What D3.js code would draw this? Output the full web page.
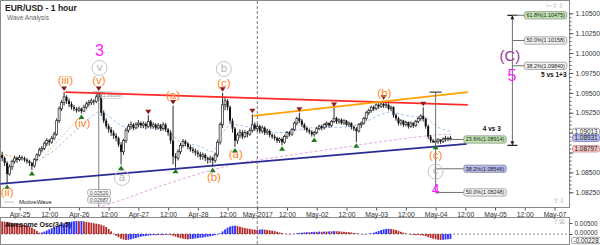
<!DOCTYPE html>
<html>
<head>
<meta charset="utf-8">
<script src="https://cdn.jsdelivr.net/npm/d3@7"></script>
<style>
  body { margin: 0; background: #fff; }
  svg { display: block; font-family: "Liberation Sans", Arial, sans-serif; }
</style>
</head>
<body>
<svg id="chart" width="600" height="245"></svg>
<script>
// hourly candles from Apr-24 17:00, [high, low, close]; open = previous close
var firstHour = -7;
var firstOpen = 1.0872;
var candles = [
  [1.0876,1.0864,1.0868],[1.0870,1.0858,1.0862],[1.0864,1.0836,1.0848],[1.0860,1.0846,1.0857],
  [1.0866,1.0853,1.0864],[1.0871,1.0861,1.0868],[1.0870,1.0862,1.0866],
  [1.0872,1.0864,1.0869],[1.0871,1.0865,1.0868],[1.0870,1.0863,1.0866],[1.0868,1.0861,1.0864],
  [1.0866,1.0858,1.0862],[1.0863,1.0853,1.0858],[1.0868,1.0856,1.0866],[1.0874,1.0864,1.0872],
  [1.0881,1.0870,1.0878],[1.0883,1.0875,1.0880],[1.0889,1.0878,1.0886],[1.0893,1.0883,1.0890],
  [1.0892,1.0884,1.0888],[1.0896,1.0886,1.0893],[1.0901,1.0891,1.0898],[1.0918,1.0896,1.0915],
  [1.0933,1.0912,1.0930],[1.0941,1.0927,1.0938],[1.0951,1.0934,1.0945],[1.0947,1.0936,1.0940],
  [1.0943,1.0932,1.0936],[1.0939,1.0929,1.0932],[1.0935,1.0927,1.0930],[1.0932,1.0925,1.0928],
  [1.0933,1.0926,1.0930],[1.0931,1.0924,1.0927],[1.0935,1.0926,1.0932],[1.0939,1.0930,1.0936],
  [1.0941,1.0933,1.0938],[1.0943,1.0935,1.0940],[1.0942,1.0935,1.0939],[1.0948,1.0937,1.0945],
  [1.0951,1.0940,1.0948],[1.0949,1.0921,1.0925],[1.0928,1.0912,1.0915],[1.0918,1.0905,1.0908],
  [1.0911,1.0900,1.0904],[1.0907,1.0896,1.0900],[1.0903,1.0892,1.0896],[1.0899,1.0889,1.0893],
  [1.0895,1.0882,1.0885],[1.0888,1.0860,1.0876],[1.0892,1.0872,1.0890],[1.0906,1.0887,1.0903],
  [1.0911,1.0900,1.0908],[1.0914,1.0904,1.0910],[1.0912,1.0903,1.0906],[1.0913,1.0904,1.0910],
  [1.0916,1.0907,1.0912],[1.0914,1.0906,1.0909],[1.0914,1.0906,1.0911],[1.0913,1.0904,1.0908],
  [1.0922,1.0906,1.0914],[1.0916,1.0905,1.0908],[1.0913,1.0905,1.0910],[1.0912,1.0903,1.0906],
  [1.0912,1.0904,1.0909],[1.0911,1.0902,1.0905],[1.0913,1.0903,1.0910],[1.0912,1.0901,1.0904],
  [1.0906,1.0896,1.0900],[1.0903,1.0886,1.0890],[1.0934,1.0860,1.0870],[1.0874,1.0856,1.0868],
  [1.0879,1.0865,1.0876],[1.0887,1.0873,1.0884],[1.0892,1.0881,1.0889],[1.0891,1.0883,1.0886],
  [1.0888,1.0879,1.0882],[1.0885,1.0876,1.0879],[1.0882,1.0874,1.0877],[1.0880,1.0871,1.0875],
  [1.0878,1.0869,1.0873],[1.0876,1.0866,1.0870],[1.0875,1.0866,1.0872],[1.0874,1.0864,1.0868],
  [1.0870,1.0861,1.0866],[1.0871,1.0862,1.0868],[1.0870,1.0857,1.0865],[1.0875,1.0862,1.0872],
  [1.0891,1.0869,1.0888],[1.0913,1.0885,1.0910],[1.0950,1.0906,1.0935],[1.0945,1.0928,1.0940],
  [1.0942,1.0928,1.0932],[1.0934,1.0911,1.0915],[1.0918,1.0900,1.0905],[1.0907,1.0882,1.0890],
  [1.0900,1.0886,1.0897],[1.0904,1.0893,1.0900],[1.0903,1.0892,1.0895],[1.0903,1.0893,1.0900],
  [1.0902,1.0894,1.0898],[1.0906,1.0896,1.0903],[1.0923,1.0900,1.0910],[1.0913,1.0902,1.0905],
  [1.0911,1.0901,1.0908],[1.0910,1.0899,1.0902],[1.0909,1.0899,1.0906],[1.0908,1.0897,1.0900],
  [1.0905,1.0897,1.0902],[1.0904,1.0894,1.0897],[1.0899,1.0892,1.0895],[1.0898,1.0890,1.0893],
  [1.0895,1.0887,1.0890],[1.0894,1.0887,1.0892],[1.0894,1.0884,1.0888],[1.0897,1.0886,1.0895],
  [1.0902,1.0892,1.0900],[1.0902,1.0895,1.0898],[1.0906,1.0896,1.0904],[1.0914,1.0902,1.0912],
  [1.0920,1.0909,1.0918],[1.0925,1.0912,1.0915],[1.0917,1.0907,1.0910],[1.0912,1.0903,1.0906],
  [1.0908,1.0900,1.0903],[1.0905,1.0898,1.0901],[1.0903,1.0895,1.0898],[1.0902,1.0895,1.0900],
  [1.0907,1.0898,1.0905],[1.0910,1.0903,1.0908],[1.0910,1.0903,1.0906],[1.0912,1.0904,1.0910],
  [1.0914,1.0907,1.0912],[1.0913,1.0906,1.0909],[1.0916,1.0907,1.0914],[1.0931,1.0912,1.0918],
  [1.0920,1.0911,1.0914],[1.0918,1.0911,1.0916],[1.0918,1.0910,1.0912],[1.0917,1.0910,1.0915],
  [1.0916,1.0908,1.0910],[1.0914,1.0907,1.0912],[1.0913,1.0904,1.0907],[1.0909,1.0902,1.0905],
  [1.0907,1.0888,1.0902],[1.0912,1.0900,1.0910],[1.0914,1.0906,1.0912],[1.0920,1.0910,1.0918],
  [1.0927,1.0915,1.0925],[1.0930,1.0922,1.0928],[1.0934,1.0925,1.0932],[1.0934,1.0927,1.0930],
  [1.0937,1.0928,1.0935],[1.0937,1.0930,1.0933],[1.0938,1.0931,1.0936],[1.0940,1.0931,1.0934],
  [1.0938,1.0931,1.0935],[1.0937,1.0928,1.0930],[1.0934,1.0927,1.0932],[1.0933,1.0919,1.0922],
  [1.0924,1.0915,1.0918],[1.0920,1.0909,1.0912],[1.0917,1.0909,1.0915],[1.0916,1.0907,1.0910],
  [1.0915,1.0908,1.0913],[1.0914,1.0905,1.0908],[1.0914,1.0906,1.0912],[1.0913,1.0906,1.0909],
  [1.0916,1.0907,1.0914],[1.0920,1.0912,1.0918],[1.0923,1.0915,1.0921],[1.0932,1.0914,1.0917],
  [1.0919,1.0905,1.0908],[1.0910,1.0892,1.0895],[1.0897,1.0887,1.0890],[1.0892,1.0887,1.0888],
  [1.0891,1.0886,1.0889],[1.0893,1.0886,1.0891],[1.0892,1.0886,1.0889],[1.0894,1.0887,1.0892],
  [1.0896,1.0889,1.0893],[1.0895,1.0889,1.0892],[1.0896,1.0890,1.0893]
];

// awesome oscillator (34,5), one value per candle
var aoValues = [
  0.0057,0.0056,0.0054,0.0053,0.0051,0.0050,0.0048,
  0.0046,0.0044,0.0041,0.0038,0.0034,0.0029,0.0022,0.0014,0.0006,0.0007,
  0.0011,0.0016,0.0021,0.0026,0.0031,0.0036,0.0041,0.0045,0.0049,0.0052,
  0.0054,0.0056,0.0058,0.0059,0.0058,0.0059,0.0057,0.0055,0.0053,0.0051,
  0.0049,0.0047,0.0045,0.0042,0.0038,0.0032,0.0023,0.0012,0.0001,-0.0008,
  -0.0015,-0.0021,-0.0025,-0.0027,-0.0026,-0.0024,-0.0021,-0.0018,-0.0015,-0.0012,
  -0.0010,-0.0009,-0.0007,-0.0006,-0.0005,-0.0006,-0.0005,-0.0004,-0.0005,-0.0004,
  -0.0003,-0.0005,-0.0008,-0.0012,-0.0016,-0.0019,-0.0021,-0.0023,-0.0024,-0.0023,
  -0.0022,-0.0020,-0.0019,-0.0017,-0.0016,-0.0014,-0.0012,-0.0010,-0.0008,-0.0005,
  -0.0002,0.0003,0.0012,0.0021,0.0029,0.0034,0.0037,0.0038,0.0036,0.0033,
  0.0030,0.0027,0.0025,0.0023,0.0021,0.0020,0.0019,0.0020,0.0021,0.0020,
  0.0018,0.0017,0.0015,0.0013,0.0010,0.0007,0.0004,0.0001,-0.0001,-0.0002,
  -0.0001,0.0001,0.0003,0.0005,0.0006,0.0007,0.0008,0.0008,0.0009,0.0010,
  0.0010,0.0011,0.0010,0.0011,0.0011,0.0012,0.0012,0.0013,0.0013,0.0012,
  0.0011,0.0010,0.0009,0.0008,0.0007,0.0005,0.0003,0.0001,-0.0001,-0.0002,
  -0.0001,0.0001,0.0003,0.0006,0.0010,0.0014,0.0018,0.0021,0.0023,0.0024,
  0.0023,0.0021,0.0018,0.0014,0.0010,0.0006,0.0002,-0.0001,-0.0003,-0.0004,
  -0.0005,-0.0005,-0.0006,-0.0007,-0.0010,-0.0014,-0.0018,-0.0021,-0.0024,-0.0026,
  -0.0027,-0.0026,-0.0025,-0.0024,-0.00228
];

// moving averages, [hour, price]
var fastMa = [[9.3,1.0868],[14.1,1.0878],[18.5,1.0891],[23,1.0903],[28.2,1.0918],[32.3,1.0926],
  [35.5,1.0922],[39.5,1.0912],[44.4,1.0906],[52.4,1.0906],[60.5,1.0900],[64.5,1.0889],[72.6,1.0883],
  [77.8,1.0876],[81.9,1.0900],[85.9,1.0910],[92.7,1.0907],[104.8,1.0900],[118.1,1.0906],[131.9,1.0907],
  [139.9,1.0914],[145.2,1.0922],[150,1.0926],[155.2,1.0922],[164.1,1.0918],[169.4,1.0906],[174.2,1.0902]];
var slowMa = [[31.5,1.08054],[37.5,1.08117],[41.5,1.08155],[52.4,1.08280],[64.5,1.08406],[77.8,1.08531],
  [91.5,1.08632],[104.8,1.08695],[118.1,1.08758],[131.9,1.08820],[145.2,1.08883],[157.3,1.08933],
  [168.1,1.08971],[174.2,1.08984]];

// trend lines, [hour, price]
var supportLine = [[-8, 1.08356], [180.6, 1.08858]];
var resistLine = [[18.5, 1.0951], [181, 1.0935]];
var upperLine = [[94.4, 1.0921], [181, 1.0951]];
var channelLine = [[5.8, 1.0857], [32.1, 1.09452]];
var peachLine = [[-8, 1.0874], [7, 1.0862]];

// swing markers: hour of candle
var swingHighs = [18, 32, 52, 62, 82, 94, 113, 127, 147, 163];
var swingLows = [-5, 5, 25, 41, 63, 78, 87, 106, 119, 136, 168];

// wave labels [hour, price, text]
var orangeLabels = [[18.5,1.09650,"(iii)"],[32.1,1.09650,"(v)"],[25.4,1.09109,"(iv)"],[-5,1.08242,"(ii)"],
  [62,1.09455,"(a)"],[78.5,1.08431,"(b)"],[82.5,1.09610,"(c)"],[87.3,1.08720,"(a)"],
  [147.3,1.09480,"(b)"],[168,1.08707,"(c)"]];
var circledLabels = [[32.3,1.09813,"v"],[82.5,1.09800,"b"],[41.4,1.08431,"a"],[168,1.08510,"c"]];
var degreeLabels = [[32.3,1.10039,"3"],[198.8,1.09720,"5"],[168,1.08293,"4"]];
var primaryLabels = [[198,1.09965,"(C)"]];

// measuring tools
var rangeTool = { h: 32, top: 1.09509, bottom: 1.0803, texts: ["0.02520", "0.02687"] };
var fibLowAt = { h: 168, top: 1.0951 };
var fibLowLevels = [1.08914, 1.08546, 1.08248];
var fibLowNames = ["23.6%", "38.2%", "50.0%"];
var fibHighAt = { h: 199, bottom: 1.0884 };
var fibHighLevels = [1.10475, 1.10158, 1.09840];
var fibHighNames = ["61.8%", "50.0%", "38.2%"];

// axes
var tickHours = [0,12,24,36,48,60,72,84,96,108,120,132,144,156,168,180,192,204,216];
var tickLabels = ["Apr-25","12:00","Apr-26","12:00","Apr-27","12:00","Apr-28","12:00","May-2017","12:00",
  "May-02","12:00","May-03","12:00","May-04","12:00","May-05","12:00","May-07"];
var priceTicks = [1.0825,1.085,1.0875,1.09,1.0925,1.095,1.0975,1.1,1.1025,1.105];
var priceTags = [1.09013, 1.08931, 1.08797];
var aoTicks = [0.005, 0];
var aoLast = -0.00228;

// ---------------------------------------------------------------
var svg = d3.select("#chart");
var R = 569.5, T = 0.5, B = 207.5, aoT = 217.5, aoB = 244.5;

var x = d3.scaleLinear().domain([0, 216]).range([19.5, 554.5]);
var y = d3.scaleLinear().domain([1.0825, 1.105]).range([192.3, 13.3]);
var yAo = d3.scaleLinear().domain([0, 0.005]).range([234, 223]);

var bars = candles.map(function (d, i) {
  return { h: firstHour + i, o: i ? candles[i - 1][2] : firstOpen, hi: d[0], lo: d[1], c: d[2] };
});
function barAt(h) { return bars[h - firstHour]; }

var defs = svg.append("defs");
defs.append("clipPath").attr("id", "clipMain").append("rect")
  .attr("x", 0.5).attr("y", T).attr("width", R - 0.5).attr("height", B - T);
defs.append("clipPath").attr("id", "clipAo").append("rect")
  .attr("x", 0.5).attr("y", aoT).attr("width", R - 0.5).attr("height", aoB - aoT);

// frames
svg.append("rect").attr("x", 0.5).attr("y", T).attr("width", R - 0.5).attr("height", B - T)
  .attr("fill", "none").attr("stroke", "#8a8a8a");
svg.append("rect").attr("x", 0.5).attr("y", aoT).attr("width", R - 0.5).attr("height", aoB - aoT)
  .attr("fill", "none").attr("stroke", "#8a8a8a");

// month separator
svg.append("line").attr("x1", x(96)).attr("x2", x(96)).attr("y1", 1).attr("y2", 245)
  .attr("stroke", "#777").attr("stroke-dasharray", "3,2");

// title
svg.append("text").attr("x", 5).attr("y", 11).attr("font-size", 8.5).attr("font-weight", "bold")
  .attr("fill", "#222").text("EUR/USD - 1 hour");
svg.append("text").attr("x", 7).attr("y", 19.5).attr("font-size", 6.5).attr("fill", "#666").text("Wave Analysis");

var main = svg.append("g").attr("clip-path", "url(#clipMain)");
var line = d3.line().x(function (d) { return x(d[0]); }).y(function (d) { return y(d[1]); });

// moving averages
main.append("path").datum(slowMa).attr("d", line.curve(d3.curveMonotoneX)).attr("fill", "none")
  .attr("stroke", "#e3a6e3").attr("stroke-width", 1).attr("stroke-dasharray", "3,2");
main.append("path").datum(fastMa).attr("d", line.curve(d3.curveMonotoneX)).attr("fill", "none")
  .attr("stroke", "#a9c6f2").attr("stroke-width", 1).attr("stroke-dasharray", "3,2");
line.curve(d3.curveLinear);
main.append("path").datum(channelLine).attr("d", line).attr("stroke", "#d9c98f")
  .attr("stroke-width", 1).attr("stroke-dasharray", "2,2");
main.append("path").datum(peachLine).attr("d", line).attr("stroke", "#f7c08a")
  .attr("stroke-width", 1).attr("stroke-dasharray", "3,2");

// candles
main.selectAll("line.wick").data(bars).join("line").attr("class", "wick")
  .attr("x1", function (d) { return x(d.h); }).attr("x2", function (d) { return x(d.h); })
  .attr("y1", function (d) { return y(d.hi); }).attr("y2", function (d) { return y(d.lo); })
  .attr("stroke", "#111").attr("stroke-width", 0.9);
main.selectAll("rect.body").data(bars).join("rect").attr("class", "body")
  .attr("x", function (d) { return x(d.h) - 1; }).attr("width", 2)
  .attr("y", function (d) { return y(Math.max(d.o, d.c)); })
  .attr("height", function (d) { return Math.max(0.8, Math.abs(y(d.o) - y(d.c))); })
  .attr("fill", function (d) { return d.c >= d.o ? "#fff" : "#111"; })
  .attr("stroke", function (d) { return d.c >= d.o ? "#222" : "none"; })
  .attr("stroke-width", 0.7);

// range tool at wave (v)
var rx = x(rangeTool.h);
main.append("line").attr("x1", rx).attr("x2", rx).attr("y1", y(rangeTool.top)).attr("y2", y(rangeTool.bottom))
  .attr("stroke", "#808080").attr("stroke-width", 1);
main.append("line").attr("x1", rx - 6).attr("x2", rx + 6).attr("y1", y(rangeTool.top)).attr("y2", y(rangeTool.top))
  .attr("stroke", "#808080");

function tag(g, x0, yc, text, fill, stroke, size, color, hgt) {
  var t = g.append("text").attr("x", x0 + 2).attr("y", yc).attr("dy", "0.36em")
    .attr("font-size", size).attr("fill", color || "#222").text(text);
  var w = t.node().getComputedTextLength() + 4;
  var bh = hgt || size * 1.36;
  g.insert("rect", function () { return t.node(); })
    .attr("x", x0).attr("y", yc - bh / 2).attr("width", w).attr("height", bh)
    .attr("rx", 2).attr("fill", fill).attr("stroke", stroke).attr("stroke-width", 0.7);
  return w;
}
var topTag = main.append("g");
tag(topTag, rx + 2, y(rangeTool.top) + 3, rangeTool.top.toFixed(5), "rgba(255,255,255,0.5)", "#ccc", 5, "#888");
rangeTool.texts.forEach(function (s, i) {
  var g = main.append("g");
  tag(g, rx - 11, y(rangeTool.bottom) - 17 + i * 7, s, "#fff", "#888", 5.2, "#444", 6.6);
});

// trend lines
main.append("path").datum(resistLine).attr("d", line).attr("stroke", "#ff2a2a").attr("stroke-width", 1.8);
main.append("path").datum(upperLine).attr("d", line).attr("stroke", "#ffa100").attr("stroke-width", 1.8);
main.append("path").datum(supportLine).attr("d", line).attr("stroke", "#2b2b95").attr("stroke-width", 1.8);

// fib retracement from wave (c) high
var fx = x(fibLowAt.h);
main.append("line").attr("x1", fx).attr("x2", fx).attr("y1", y(fibLowAt.top)).attr("y2", y(d3.min(fibLowLevels)))
  .attr("stroke", "#707070");
main.append("line").attr("x1", fx - 6).attr("x2", fx + 6).attr("y1", y(fibLowAt.top)).attr("y2", y(fibLowAt.top))
  .attr("stroke", "#444").attr("stroke-width", 1.2);
var lowFills = ["#bfe5b0", "#b3b9ee", "#f2f2f2"];
fibLowLevels.forEach(function (v, i) {
  main.append("line").attr("x1", fx).attr("x2", x(179.4)).attr("y1", y(v)).attr("y2", y(v)).attr("stroke", "#707070");
  tag(main.append("g"), x(179.4), y(v), fibLowNames[i] + "(" + v.toFixed(5) + ")", lowFills[i], "#888", 5.4);
});
main.append("text").attr("x", x(179.4) + 37).attr("y", y(1.09025)).attr("text-anchor", "end")
  .attr("font-size", 6.5).attr("font-weight", "bold").attr("fill", "#111").text("4 vs 3");

// fib extension for wave 5
var ex = x(fibHighAt.h);
main.append("line").attr("x1", ex).attr("x2", ex).attr("y1", y(fibHighLevels[0])).attr("y2", y(fibHighAt.bottom))
  .attr("stroke", "#707070");
[fibHighLevels[0], fibHighAt.bottom].forEach(function (v, i) {
  main.append("line").attr("x1", ex - 5).attr("x2", ex + 5).attr("y1", y(v)).attr("y2", y(v))
    .attr("stroke", "#222").attr("stroke-width", 1.2);
  var dir = i === 0 ? -1 : 1;
  main.append("path").attr("d", "M" + (ex - 2) + "," + (y(v) - dir * 4) + "L" + (ex + 2) + "," + (y(v) - dir * 4) + "L" + ex + "," + y(v) + "Z")
    .attr("fill", "#222");
});
var highFills = ["#bfe5b0", "#f2f2f2", "#f2f2f2"];
fibHighLevels.forEach(function (v, i) {
  main.append("line").attr("x1", ex).attr("x2", ex + 12).attr("y1", y(v)).attr("y2", y(v)).attr("stroke", "#707070");
  tag(main.append("g"), ex + 12, y(v), fibHighNames[i] + "(" + v.toFixed(5) + ")", highFills[i], "#888", 5.4);
});
main.append("text").attr("x", R - 3).attr("y", y(1.09705)).attr("text-anchor", "end")
  .attr("font-size", 6.5).attr("font-weight", "bold").attr("fill", "#111").text("5 vs 1+3");

// swing markers
main.selectAll("path.hi").data(swingHighs).join("path").attr("class", "hi")
  .attr("d", function (h) {
    var cx = x(h), cy = y(barAt(h).hi) - 1;
    return "M" + (cx - 3) + "," + (cy - 4.5) + "L" + (cx + 3) + "," + (cy - 4.5) + "L" + cx + "," + cy + "Z";
  }).attr("fill", "#8e1b1b");
main.selectAll("path.lo").data(swingLows).join("path").attr("class", "lo")
  .attr("d", function (h) {
    var cx = x(h), cy = y(barAt(h).lo) + 1;
    return "M" + (cx - 3) + "," + (cy + 4.5) + "L" + (cx + 3) + "," + (cy + 4.5) + "L" + cx + "," + cy + "Z";
  }).attr("fill", "#1d7a1d");

// wave labels
main.selectAll("text.orange").data(orangeLabels).join("text").attr("class", "orange")
  .attr("x", function (d) { return x(d[0]); }).attr("y", function (d) { return y(d[1]); })
  .attr("dy", "0.26em").attr("text-anchor", "middle").attr("font-size", 11.5)
  .attr("fill", "#ff8424").text(function (d) { return d[2]; });
var circ = main.selectAll("g.circ").data(circledLabels).join("g").attr("class", "circ")
  .attr("transform", function (d) { return "translate(" + x(d[0]) + "," + y(d[1]) + ")"; });
circ.append("circle").attr("r", 7.5).attr("fill", "none").attr("stroke", "#c4c4c4").attr("stroke-width", 1);
circ.append("text").attr("dy", "0.33em").attr("y", -1).attr("text-anchor", "middle").attr("font-size", 11.5)
  .attr("fill", "#b4b4b4").text(function (d) { return d[2]; });
main.selectAll("text.deg").data(degreeLabels).join("text").attr("class", "deg")
  .attr("x", function (d) { return x(d[0]); }).attr("y", function (d) { return y(d[1]); })
  .attr("dy", "0.36em").attr("text-anchor", "middle")
  .attr("font-size", function (d) { return d[2] === "4" ? 14 : 16; })
  .attr("fill", "#ff1aff").text(function (d) { return d[2]; });
main.selectAll("text.prim").data(primaryLabels).join("text").attr("class", "prim")
  .attr("x", function (d) { return x(d[0]); }).attr("y", function (d) { return y(d[1]); })
  .attr("dy", "0.36em").attr("text-anchor", "middle").attr("font-size", 15)
  .attr("fill", "#97399b").text(function (d) { return d[2]; });

// corner marks
svg.append("text").attr("x", 4).attr("y", 204).attr("font-size", 6).attr("fill", "#999").text("\u21E6\u21E8");
svg.append("text").attr("x", 19).attr("y", 204).attr("font-size", 6).attr("fill", "#222").text("MotiveWave");
svg.append("text").attr("x", 546).attr("y", 8).attr("font-size", 7).attr("fill", "#bbb").text("\u21E6\u21E7\u21E9");
svg.append("text").attr("x", 553).attr("y", 203).attr("font-size", 7).attr("fill", "#bbb").text("\u21E7\u21E9");
svg.append("text").attr("x", 553).attr("y", 224).attr("font-size", 7).attr("fill", "#bbb").text("\u21E7\u22A0");

// time axis
var xAxis = svg.append("g").attr("transform", "translate(0," + B + ")")
  .call(d3.axisBottom(x).tickValues(tickHours).tickSize(3).tickPadding(2)
    .tickFormat(function (d, i) { return tickLabels[i]; }));
xAxis.select(".domain").remove();
xAxis.selectAll("line").attr("stroke", "#555");
xAxis.selectAll("text").attr("font-size", 6.8).attr("fill", "#333").attr("font-family", null);

// price axis (labels under the price tags are left out)
var yMinor = svg.append("g").attr("transform", "translate(" + R + ",0)")
  .call(d3.axisRight(y).ticks(45).tickSize(2).tickFormat(""));
yMinor.select(".domain").remove();
yMinor.selectAll("line").attr("stroke", "#555");
var yAxis = svg.append("g").attr("transform", "translate(" + R + ",0)")
  .call(d3.axisRight(y).tickValues(priceTicks).tickSize(4).tickPadding(2)
    .tickFormat(function (d) {
      var hidden = priceTags.some(function (t) { return Math.abs(y(t) - y(d)) < 5; });
      return hidden ? "" : d3.format(".5f")(d);
    }));
yAxis.select(".domain").remove();
yAxis.selectAll("line").attr("stroke", "#555");
yAxis.selectAll("text").attr("font-size", 6.8).attr("fill", "#333").attr("font-family", null);

var tagFills = ["#ffffff", "#b8bdf0", "#f4c3c3"];
var tagStrokes = ["#777", "#6468b8", "#c58a8a"];
priceTags.forEach(function (v, i) {
  tag(svg.append("g"), R + 3, y(v), v.toFixed(5), tagFills[i], tagStrokes[i], 6.4, "#222", 6.6);
});

// awesome oscillator
var ao = svg.append("g").attr("clip-path", "url(#clipAo)");
ao.append("line").attr("x1", 1).attr("x2", R).attr("y1", yAo(0)).attr("y2", yAo(0))
  .attr("stroke", "#888").attr("stroke-dasharray", "2,2");
ao.selectAll("rect").data(aoValues).join("rect")
  .attr("x", function (d, i) { return x(firstHour + i) - 0.9; }).attr("width", 1.8)
  .attr("y", function (d) { return Math.min(yAo(d), yAo(0)); })
  .attr("height", function (d) { return Math.abs(yAo(d) - yAo(0)); })
  .attr("fill", function (d, i) { return i > 0 && d > aoValues[i - 1] ? "#2f2fff" : "#b52a2a"; });
svg.append("text").attr("x", 5).attr("y", 227).attr("font-size", 7).attr("font-weight", "bold")
  .attr("fill", "#111").text("Awesome Osc(34,5)");
var aoAxis = svg.append("g").attr("transform", "translate(" + R + ",0)")
  .call(d3.axisRight(yAo).tickValues(aoTicks).tickSize(3).tickPadding(2).tickFormat(d3.format(".5f")));
aoAxis.select(".domain").remove();
aoAxis.selectAll("line").attr("stroke", "#555");
aoAxis.selectAll("text").attr("font-size", 6.4).attr("fill", "#333").attr("font-family", null)
  .attr("dy", function (d) { return d === 0 ? "0.1em" : "0.32em"; });
tag(svg.append("g"), R + 2, yAo(aoLast) + 1.5, aoLast.toFixed(5), "#fff", "#777", 6.4, "#222", 6.4);
</script>
</body>
</html>
